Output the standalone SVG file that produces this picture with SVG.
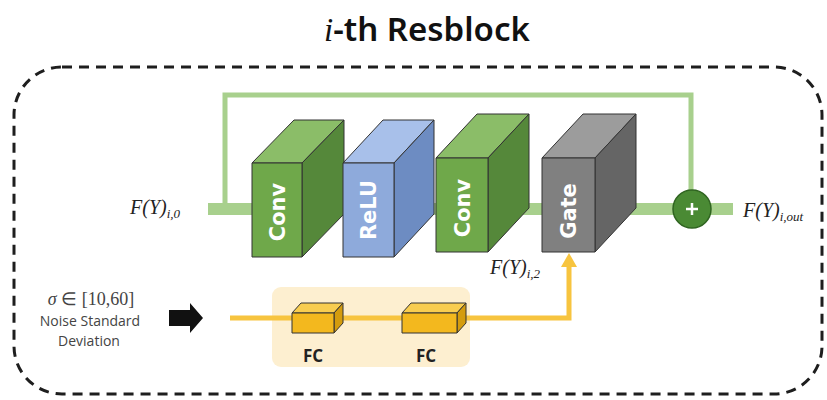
<svg xmlns="http://www.w3.org/2000/svg" width="827" height="400" viewBox="0 0 827 400">
<style>
.edge{stroke:#333;stroke-width:1;stroke-linejoin:round}
.lbl{font-family:"DejaVu Sans",sans-serif;font-weight:bold;font-size:21px;fill:#fff;text-anchor:middle;dominant-baseline:central}
.math{font-family:"Liberation Serif",serif;font-style:italic;font-size:20px;fill:#222}
.sub{font-size:13px}
.note{font-family:"Open Sans",sans-serif;font-size:14px;fill:#444;text-anchor:middle}
.fc{font-family:"Open Sans",sans-serif;font-weight:bold;font-size:17px;fill:#222;text-anchor:middle}
.gf{fill:#6fa84a}.gs{fill:#55883a}.gt{fill:#8bbd68}
.bf{fill:#8eaadb}.bs{fill:#6d8cc2}.bt{fill:#a8c0ea}
.kf{fill:#808080}.ks{fill:#656565}.kt{fill:#9c9c9c}
.yf{fill:#f3b81e}.ys{fill:#d49c0e}.yt{fill:#f8cd50}
</style>
<rect width="827" height="400" fill="#fff"/>
<text x="427" y="41" font-family="'Noto Sans',sans-serif" font-weight="600" font-size="33" fill="#111" text-anchor="middle"><tspan font-family="'Liberation Serif',serif" font-style="italic" font-weight="normal">i</tspan>-th Resblock</text>
<rect id="frame" x="14" y="67" width="808" height="327" rx="48" fill="none" stroke="#1e1e1e" stroke-width="3" stroke-dasharray="10 7"/>
<g id="fc-panel"><rect x="272" y="287" width="198" height="80" rx="9" fill="#fdefd0"/></g>
<g id="connectors" fill="none">
<line x1="208" y1="209" x2="733" y2="209" stroke="#a8d08d" stroke-width="12"/>
<path d="M225,209 V95 H691 V190" stroke="#a8d08d" stroke-width="5"/>
<path d="M230,318 H569 V266" stroke="#f7c43f" stroke-width="5"/>
<polygon points="561,267 577,267 569,253" fill="#f7c43f"/>
<polygon points="169,310 190,310 190,303 203,318 190,333 190,326 169,326" fill="#111"/>
</g>
<g id="conv1">
<polygon class="gt edge" points="252,163 294,120 344,120 302,163"/>
<polygon class="gs edge" points="302,163 344,120 344,214 302,257"/>
<rect class="gf edge" x="252" y="163" width="50" height="94"/>
<text class="lbl" transform="translate(278,212) rotate(-90)">Conv</text>
</g>
<g id="relu">
<polygon class="bt edge" points="343,163 383,120 434,120 394,163"/>
<polygon class="bs edge" points="394,163 434,120 434,214 394,257"/>
<rect class="bf edge" x="343" y="163" width="51" height="94"/>
<text class="lbl" transform="translate(369,210) rotate(-90)">ReLU</text>
</g>
<g id="conv2">
<polygon class="gt edge" points="436,158 477,114 529,114 488,158"/>
<polygon class="gs edge" points="488,158 529,114 529,208 488,252"/>
<rect class="gf edge" x="436" y="158" width="52" height="94"/>
<text class="lbl" transform="translate(463,208) rotate(-90)">Conv</text>
</g>
<g id="gate">
<polygon class="kt edge" points="542,158 583,114 636,114 595,158"/>
<polygon class="ks edge" points="595,158 636,114 636,208 595,252"/>
<rect class="kf edge" x="542" y="158" width="53" height="94"/>
<text class="lbl" transform="translate(569,211) rotate(-90)">Gate</text>
</g>
<g id="add">
<circle cx="692" cy="209" r="19" fill="#4a8a34" stroke="#2f6420" stroke-width="1.5"/>
<path d="M686,209 H698 M692,203 V215" stroke="#fff" stroke-width="2.5"/>
</g>
<g id="fc1">
<polygon class="yt edge" points="292,313 301,303 343,303 334,313"/>
<polygon class="ys edge" points="334,313 343,303 343,323 334,333"/>
<rect class="yf edge" x="292" y="313" width="42" height="20"/>
<text class="fc" x="313" y="362">FC</text>
</g>
<g id="fc2">
<polygon class="yt edge" points="402,313 411,303 466,303 457,313"/>
<polygon class="ys edge" points="457,313 466,303 466,323 457,333"/>
<rect class="yf edge" x="402" y="313" width="55" height="20"/>
<text class="fc" x="426" y="362">FC</text>
</g>
<g id="labels">
<text class="math" x="130" y="214">F(Y)<tspan class="sub" dy="4">i,0</tspan></text>
<text class="math" x="743" y="217">F(Y)<tspan class="sub" dy="4">i,out</tspan></text>
<text class="math" x="490" y="274">F(Y)<tspan class="sub" dy="4">i,2</tspan></text>
</g>
<g id="sigma">
<text x="91" y="305" font-family="'Liberation Serif',serif" font-size="18" fill="#444" text-anchor="middle"><tspan font-style="italic">σ</tspan> ∈ [10,60]</text>
<text class="note" x="90" y="326">Noise Standard</text>
<text class="note" x="89" y="346">Deviation</text>
</g>
</svg>
